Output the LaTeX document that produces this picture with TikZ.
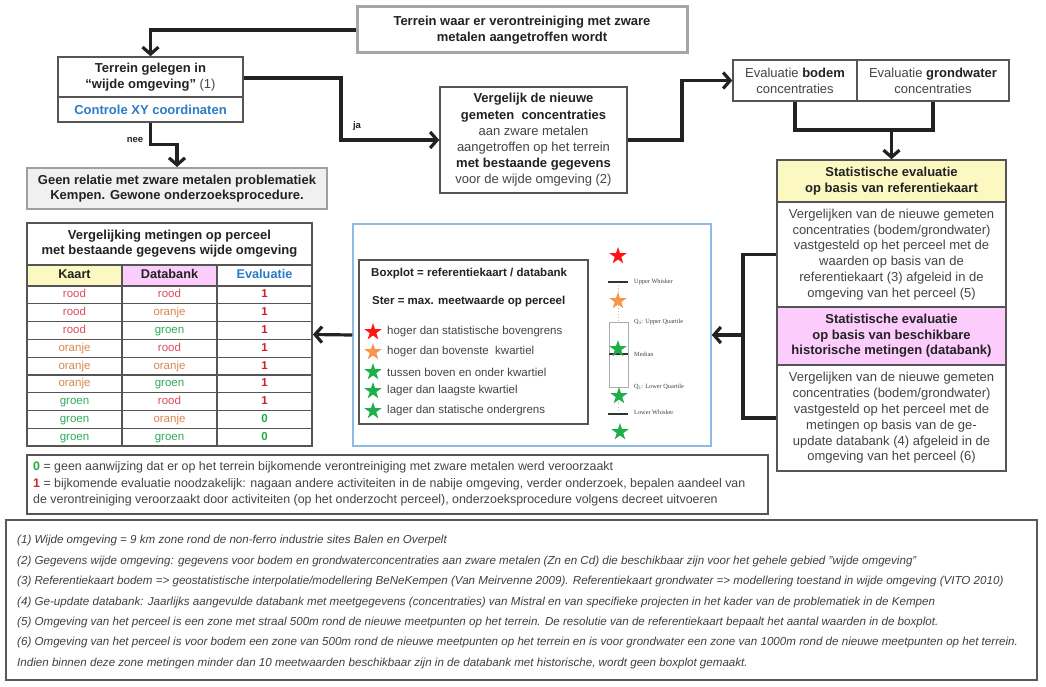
\documentclass[tikz,border=0pt]{standalone}
\usepackage{fontspec}
\setmainfont{Liberation Sans}
\newfontfamily\serifsmall{Liberation Serif}
\usetikzlibrary{arrows.meta,shapes.geometric}
\definecolor{dk}{HTML}{222222}
\definecolor{txt}{HTML}{444444}
\definecolor{bc}{HTML}{555555}
\definecolor{ctrlblue}{HTML}{2B7BC8}
\definecolor{yel}{HTML}{FBF8C2}
\definecolor{pnk}{HTML}{FCCCFC}
\definecolor{rood}{HTML}{DE4B5A}
\definecolor{oranje}{HTML}{D9874E}
\definecolor{groen}{HTML}{2EAA5C}
\definecolor{ev1}{HTML}{D42020}
\definecolor{ev0}{HTML}{1FAA40}
\definecolor{panelblue}{HTML}{8DBBE3}
\definecolor{starred}{HTML}{FF1414}
\definecolor{starorange}{HTML}{F7964B}
\definecolor{stargreen}{HTML}{1DB04A}
\definecolor{footc}{HTML}{404040}
\newcommand\bdk[1]{\textbf{\color{dk}#1}}
\begin{document}
\begin{tikzpicture}[x=1pt,y=-1pt,
  box/.style={draw=bc, line width=1.5pt, fill=white, inner sep=0pt, align=center, text=txt, font=\fontsize{13}{15.8}\selectfont},
  conn/.style={draw=dk, line width=3.2pt},
  arr/.style={conn, -{Straight Barb[length=7pt,width=16pt]}},
  cell/.style={draw=bc, line width=1.2pt, inner sep=0pt, minimum width=95pt, minimum height=17.78pt, text height=8.5pt, text depth=2.5pt, font=\fontsize{11.5}{13}\selectfont},
  hcell/.style={cell, minimum height=21pt, text height=9pt, text depth=2.5pt, font=\bfseries\fontsize{12.7}{14}\selectfont, text=dk},
  lstar/.style={star, star points=5, star point ratio=2.6, inner sep=0pt, minimum size=18pt},
  ltext/.style={anchor=west, inner sep=0pt, text=txt, font=\fontsize{11.5}{13}\selectfont},
  lbold/.style={anchor=west, inner sep=0pt, text=dk, font=\bfseries\fontsize{11.5}{13}\selectfont},
  bplbl/.style={anchor=west, inner sep=0pt, text=gray!50!black, font=\serifsmall\fontsize{6.3}{7}\selectfont},
  lbl/.style={inner sep=0pt, text=dk, font=\bfseries\fontsize{9.5}{11}\selectfont}
]
\useasboundingbox (0,0) rectangle (1046,687);
\fill[white] (0,0) rectangle (1046,687);

% top flow
\node[box, minimum width=330pt, minimum height=46pt, draw=gray!70, line width=3pt, font=\bfseries\fontsize{13}{15.5}\selectfont, text=dk] (top) at (522,30) {Terrein waar er verontreiniging met zware\\metalen aangetroffen wordt};
\node[box, minimum width=185pt, minimum height=40pt] (wijde) at (150.5,77) {\bdk{Terrein gelegen in}\\\bdk{“wijde omgeving”} (1)};
\node[box, minimum width=185pt, minimum height=25pt, font=\bfseries\fontsize{13}{15}\selectfont, text=ctrlblue] (ctrl) at (150.5,109.5) {Controle XY coordinaten};
\node[box, minimum width=300pt, minimum height=41pt, fill=gray!12, draw=gray!75, line width=2pt, font=\bfseries\fontsize{13}{15}\selectfont, text=dk] (geen) at (177,188.5) {Geen relatie met zware metalen problematiek\\Kempen. Gewone onderzoeksprocedure.};
\node[box, minimum width=187pt, minimum height=106pt, font=\fontsize{13}{16.2}\selectfont] (verg) at (533.5,140) {\bdk{Vergelijk de nieuwe}\\\bdk{gemeten\ \ concentraties}\\aan zware metalen\\aangetroffen op het terrein\\\bdk{met bestaande gegevens}\\voor de wijde omgeving (2)};
\node[box, minimum width=124pt, minimum height=41pt] (bodem) at (795,80.5) {Evaluatie \bdk{bodem}\\concentraties};
\node[box, minimum width=152pt, minimum height=41pt] (grond) at (933,80.5) {Evaluatie \bdk{grondwater}\\concentraties};

% right column
\node[box, minimum width=229pt, minimum height=42pt, fill=yel, font=\bfseries\fontsize{13}{15.5}\selectfont, text=dk] (yelb) at (891.5,181) {Statistische evaluatie\\op basis van referentiekaart};
\node[box, minimum width=229pt, minimum height=105pt] (wit1) at (891.5,254.5) {Vergelijken van de nieuwe gemeten\\concentraties (bodem/grondwater)\\vastgesteld op het perceel met de\\waarden op basis van de\\referentiekaart (3) afgeleid in de\\omgeving van het perceel (5)};
\node[box, minimum width=229pt, minimum height=58pt, fill=pnk, font=\bfseries\fontsize{13}{15.5}\selectfont, text=dk] (pinkb) at (891.5,336) {Statistische evaluatie\\op basis van beschikbare\\historische metingen (databank)};
\node[box, minimum width=229pt, minimum height=106pt] (wit2) at (891.5,418) {Vergelijken van de nieuwe gemeten\\concentraties (bodem/grondwater)\\vastgesteld op het perceel met de\\metingen op basis van de ge-\\update databank (4) afgeleid in de\\omgeving van het perceel (6)};

% connectors top
\draw[arr] (top.west) -| (wijde.north);
\draw[arr] (ctrl.south) -- ++(0,22) -| (geen.north);
\node[lbl] (neel) at (135,140) {nee};
\coordinate (jaturn) at (341,78);
\draw[arr] (wijde.east |- jaturn) -- (jaturn) |- (verg.west);
\node[lbl] (jal) at (357,126) {ja};
\coordinate (vturn) at (682,140);
\draw[arr] (verg.east) -- (vturn) |- (bodem.west);
\coordinate (join) at (891.5,130);
\draw[conn] (bodem.south) |- (join) -| (grond.south);
\draw[arr] (join) -- (yelb.north);

% blue panel
\node[draw=panelblue, line width=1.5pt, minimum width=358pt, minimum height=222pt, inner sep=0pt] (panel) at (532,335) {};
\node[draw=bc, line width=1.8pt, minimum width=229pt, minimum height=164pt, inner sep=0pt] (legend) at (473.5,342) {};
\node[lbold] (lg1) at (371,274) {Boxplot = referentiekaart / databank};
\node[lbold] (lg2) at (372,302) {Ster = max. meetwaarde op perceel};
\node[lstar, fill=starred] (s1) at (373,332) {};
\node[ltext] (t1) at (387,332) {hoger dan statistische bovengrens};
\node[lstar, fill=starorange] (s2) at (373,352) {};
\node[ltext] (t2) at (387,352) {hoger dan bovenste\ \ kwartiel};
\node[lstar, fill=stargreen] (s3) at (373,372) {};
\node[ltext] (t3) at (387,372) {tussen boven en onder kwartiel};
\node[lstar, fill=stargreen] (s4) at (373,391) {};
\node[ltext] (t4) at (387,391) {lager dan laagste kwartiel};
\node[lstar, fill=stargreen] (s5) at (373,411) {};
\node[ltext] (t5) at (387,411) {lager dan statische ondergrens};

% boxplot
\draw[gray!50, dotted, line width=0.9pt] (618.5,282) -- (618.5,322) (618.5,387) -- (618.5,414);
\draw[gray!65, line width=0.8pt] (609,322) rectangle (628,387);
\draw[gray!40!black, line width=1.5pt] (608,282) -- (628,282) (608,414) -- (628,414) (609,354) -- (628,354);
\node[lstar, fill=starred] (b1) at (618,256) {};
\node[lstar, fill=starorange] (b2) at (618,301) {};
\node[lstar, fill=stargreen] (b3) at (618,349) {};
\node[lstar, fill=stargreen] (b4) at (619,396) {};
\node[lstar, fill=stargreen] (b5) at (620,432) {};
\node[bplbl] (u1) at (634,282) {Upper Whisker};
\node[bplbl] (u2) at (634,322) {Q\textsubscript{3}: Upper Quartile};
\node[bplbl] (u3) at (634,354) {Median};
\node[bplbl] (u4) at (634,387) {Q\textsubscript{1}: Lower Quartile};
\node[bplbl] (u5) at (634,412) {Lower Whisker};

% table
\node[cell, minimum width=285pt, minimum height=42pt, text height=, text depth=, font=\bfseries\fontsize{13}{15}\selectfont, text=dk, align=center] (ttitle) at (169.5,244) {Vergelijking metingen op perceel\\met bestaande gegevens wijde omgeving};
\node[hcell, fill=yel] (hk) at (74.5,275.5) {Kaart};
\node[hcell, fill=pnk] (hd) at (169.5,275.5) {Databank};
\node[hcell, text=ctrlblue] (he) at (264.5,275.5) {Evaluatie};
\foreach \i/\a/\b/\e in {1/rood/rood/1, 2/rood/oranje/1, 3/rood/groen/1, 4/oranje/rood/1, 5/oranje/oranje/1, 6/oranje/groen/1, 7/groen/rood/1, 8/groen/oranje/0, 9/groen/groen/0}{
  \node[cell, text=\a] (ra\i) at (74.5,{286+(\i-0.5)*17.78}) {\a};
  \node[cell, text=\b] (rb\i) at (169.5,{286+(\i-0.5)*17.78}) {\b};
  \node[cell, text=ev\e, font=\bfseries\fontsize{11.5}{13}\selectfont] (re\i) at (264.5,{286+(\i-0.5)*17.78}) {\e};
}
\node[draw=bc, line width=1.8pt, minimum width=285pt, minimum height=223pt, inner sep=0pt] (tbl) at (169.5,334.5) {};

% connectors to panel and table
\coordinate (rc) at (743,335);
\draw[conn] (wit1.west) -| (rc) |- (wit2.west);
\draw[arr] (rc) -- (panel.east);
\draw[arr] (panel.west) -- (tbl.east);

% note box
\node[draw=bc, line width=1.6pt, minimum width=741pt, minimum height=59pt, inner sep=0pt] (note) at (397.5,484.5) {};
\node[anchor=west, inner sep=0pt, align=left, text=txt, font=\fontsize{12.4}{16.5}\selectfont] (notet) at (33,484) {\textcolor{ev0}{\textbf{0}} = geen aanwijzing dat er op het terrein bijkomende verontreiniging met zware metalen werd veroorzaakt\\\textcolor{ev1}{\textbf{1}} = bijkomende evaluatie noodzakelijk: nagaan andere activiteiten in de nabije omgeving, verder onderzoek, bepalen aandeel van\\de verontreiniging veroorzaakt door activiteiten (op het onderzocht perceel), onderzoeksprocedure volgens decreet uitvoeren};

% footnotes
\node[draw=gray!70!black, line width=2pt, minimum width=1031pt, minimum height=160pt, inner sep=0pt] (foot) at (521.5,600) {};
\node[anchor=west, inner sep=0pt, align=left, text=footc, font=\itshape\fontsize{11.6}{20.4}\selectfont] (foott) at (17,602) {(1) Wijde omgeving = 9 km zone rond de non-ferro industrie sites Balen en Overpelt\\(2) Gegevens wijde omgeving: gegevens voor bodem en grondwaterconcentraties aan zware metalen (Zn en Cd) die beschikbaar zijn voor het gehele gebied "wijde omgeving"\\(3) Referentiekaart bodem => geostatistische interpolatie/modellering BeNeKempen (Van Meirvenne 2009). Referentiekaart grondwater => modellering toestand in wijde omgeving (VITO 2010)\\(4) Ge-update databank: Jaarlijks aangevulde databank met meetgegevens (concentraties) van Mistral en van specifieke projecten in het kader van de problematiek in de Kempen\\(5) Omgeving van het perceel is een zone met straal 500m rond de nieuwe meetpunten op het terrein. De resolutie van de referentiekaart bepaalt het aantal waarden in de boxplot.\\(6) Omgeving van het perceel is voor bodem een zone van 500m rond de nieuwe meetpunten op het terrein en is voor grondwater een zone van 1000m rond de nieuwe meetpunten op het terrein.\\Indien binnen deze zone metingen minder dan 10 meetwaarden beschikbaar zijn in de databank met historische, wordt geen boxplot gemaakt.};
\end{tikzpicture}
\end{document}
